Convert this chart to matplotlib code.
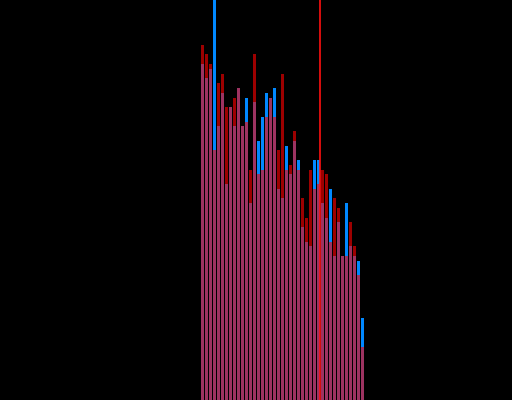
import numpy as np
import matplotlib
matplotlib.use("Agg")
import matplotlib.pyplot as plt

# bin index (one per bar) and counts
bins = np.arange(41)
blue_counts = [70, 67, 69, 90, 57, 64, 45, 61, 57, 65, 57, 63, 41, 62, 54, 59, 64, 63, 65, 44,
               42, 53, 47, 54, 50, 36, 33, 32, 50, 50, 41, 38, 44, 30, 37, 30, 41, 32, 30, 29, 17]
red_counts = [74, 72, 70, 52, 66, 68, 61, 61, 63, 65, 57, 58, 48, 72, 47, 48, 59, 63, 59, 52,
              68, 48, 49, 56, 48, 42, 38, 48, 44, 45, 48, 47, 33, 42, 40, 30, 30, 37, 32, 26, 11]
threshold = 29.85

fig = plt.figure(figsize=(5.12, 4.0), dpi=100, facecolor='black')
ax = fig.add_axes([0, 0, 1, 1])
ax.set_facecolor('black')

ax.bar(bins, blue_counts, width=0.75, align='edge', color='#0088ff', linewidth=0)
ax.bar(bins, red_counts, width=0.75, align='edge', color='#ff0000', alpha=0.62, linewidth=0)
ax.axvline(threshold, color='#ff1010', linewidth=1.2)

ax.set_xlim(-50.25, 77.75)
ax.set_ylim(0, 83.33)
ax.axis('off')

fig.savefig('out.png', dpi=100, facecolor='black')
